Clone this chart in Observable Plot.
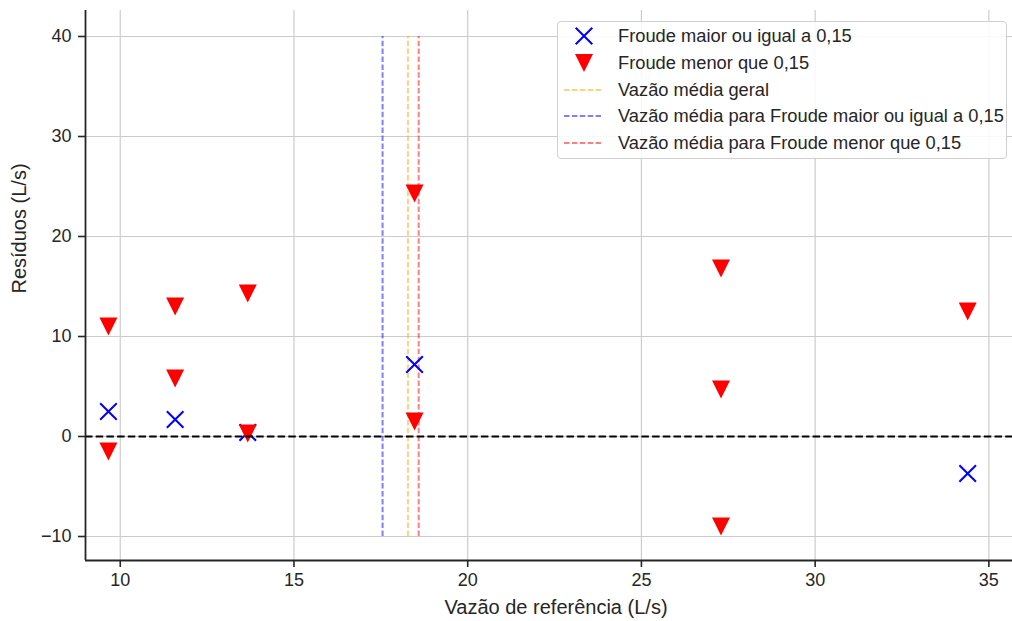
<!DOCTYPE html>
<html>
<head>
<meta charset="utf-8">
<script src="https://cdn.jsdelivr.net/npm/d3@7"></script>
<script src="https://cdn.jsdelivr.net/npm/@observablehq/plot@0.6"></script>
<style>
  html, body { margin: 0; padding: 0; background: #fff; }
  #wrap { position: relative; width: 1012px; height: 621px; font-family: "Liberation Sans", Arial, sans-serif; }
  #legend { position: absolute; left: 557px; top: 21px; width: 450px; height: 138px; box-sizing: border-box;
    border: 1px solid #d0d0d0; border-radius: 4px; background: rgba(255,255,255,0.85); padding-top: 1px; }
  .row { display: flex; align-items: center; height: 26.7px; font-size: 18.3px; color: #262626; white-space: nowrap; }
  .row svg { width: 60px; height: 26px; flex: none; }
</style>
</head>
<body>
<div id="wrap"></div>
<script>
// ---- data ----
const xCross = [9.66, 11.58, 13.67, 18.47, 34.39];
const yCross = [2.5, 1.7, 0.4, 7.2, -3.7];
const xTri = [9.66, 9.66, 11.58, 11.58, 13.67, 13.67, 18.47, 18.47, 27.29, 27.29, 27.29, 34.39];
const yTri = [11.0, -1.5, 13.0, 5.8, 14.3, 0.3, 24.3, 1.5, 16.8, 4.7, -9.0, 12.5];
const meanNames = ["Vazão média geral", "Vazão média para Froude maior ou igual a 0,15", "Vazão média para Froude menor que 0,15"];
const meanValues = [18.28, 17.55, 18.59];
const meanColors = ["orange", "blue", "red"];
const meanRange = [-10, 40];
const xTicks = [10, 15, 20, 25, 30, 35];
const yTicks = [-10, 0, 10, 20, 30, 40];
const xDomain = [9, 35.68];
const yDomain = [-12.4, 42.6];
const seriesNames = ["Froude maior ou igual a 0,15", "Froude menor que 0,15"];
const xLabel = "Vazão de referência (L/s)";
const yLabel = "Resíduos (L/s)";

const crossData = xCross.map((x, i) => ({x, y: yCross[i]}));
const triData = xTri.map((x, i) => ({x, y: yTri[i]}));
const meanData = meanValues.map((v, i) => ({x: v, y1: meanRange[0], y2: meanRange[1], c: meanColors[i]}));

const triDown = {draw(ctx, size) { const r = Math.sqrt(size / Math.PI); ctx.moveTo(-r, -r); ctx.lineTo(r, -r); ctx.lineTo(0, r); ctx.closePath(); }};
const crossSym = {draw(ctx, size) { const r = Math.sqrt(size / Math.PI); ctx.moveTo(-r, -r); ctx.lineTo(r, r); ctx.moveTo(-r, r); ctx.lineTo(r, -r); }};

const ink = "#262626";
const chart = Plot.plot({
  width: 1012, height: 621,
  marginLeft: 85, marginRight: 0, marginTop: 10, marginBottom: 61,
  style: {fontFamily: '"Liberation Sans", Arial, sans-serif', fontSize: "18px", color: ink, background: "transparent"},
  x: {domain: xDomain},
  y: {domain: yDomain},
  marks: [
    Plot.gridX(xTicks, {stroke: "#cccccc", strokeOpacity: 1, strokeWidth: 1.2}),
    Plot.gridY(yTicks, {stroke: "#cccccc", strokeOpacity: 1, strokeWidth: 1.2}),
    Plot.ruleX(meanData, {x: "x", y1: "y1", y2: "y2", stroke: "c", strokeOpacity: 0.5, strokeWidth: 2, strokeDasharray: "5.5,2.4"}),
    Plot.dot(crossData, {x: "x", y: "y", symbol: crossSym, r: 8.3, stroke: "blue", strokeWidth: 2, fill: "none"}),
    Plot.dot(triData, {x: "x", y: "y", symbol: triDown, r: 9, fill: "red", stroke: "none"}),
    Plot.ruleY([0], {stroke: "black", strokeWidth: 2, strokeDasharray: "7.5,3.2"}),
    Plot.ruleX([xDomain[0]], {stroke: ink, strokeWidth: 1.8}),
    Plot.ruleY([yDomain[0]], {stroke: ink, strokeWidth: 1.8}),
    Plot.axisX(xTicks, {tickSize: 7, tickPadding: 6, stroke: ink, strokeWidth: 1.6, fontSize: 18, fill: ink, label: null}),
    Plot.axisY(yTicks, {tickSize: 7, tickPadding: 7, stroke: ink, strokeWidth: 1.6, fontSize: 18, fill: ink, label: null}),
    Plot.text([xLabel], {frameAnchor: "bottom", dy: 47, dx: 7, fontSize: 20, fill: ink, lineAnchor: "middle"}),
    Plot.text([yLabel], {frameAnchor: "left", rotate: -90, dx: -66, dy: 8, fontSize: 20, fill: ink, lineAnchor: "middle"})
  ]
});
const wrap = document.getElementById("wrap");
wrap.appendChild(chart);

// legend
const legend = document.createElement("div");
legend.id = "legend";
const rows = [
  {label: seriesNames[0], kind: "cross"},
  {label: seriesNames[1], kind: "tri"},
  {label: meanNames[0], kind: "line", color: meanColors[0]},
  {label: meanNames[1], kind: "line", color: meanColors[1]},
  {label: meanNames[2], kind: "line", color: meanColors[2]}
];
for (const r of rows) {
  const row = document.createElement("div");
  row.className = "row";
  let sym = "";
  if (r.kind === "cross") sym = '<path d="M17.7,4.7L34.3,21.3M17.7,21.3L34.3,4.7" stroke="blue" stroke-width="2" fill="none"/>';
  else if (r.kind === "tri") sym = '<path d="M17,4L35,4L26,22Z" fill="red"/>';
  else sym = `<line x1="6" x2="43" y1="13" y2="13" stroke="${r.color}" stroke-opacity="0.5" stroke-width="2" stroke-dasharray="5.5,2.4"/>`;
  row.innerHTML = `<svg viewBox="0 0 60 26">${sym}</svg><span>${r.label}</span>`;
  legend.appendChild(row);
}
wrap.appendChild(legend);
</script>
</body>
</html>
